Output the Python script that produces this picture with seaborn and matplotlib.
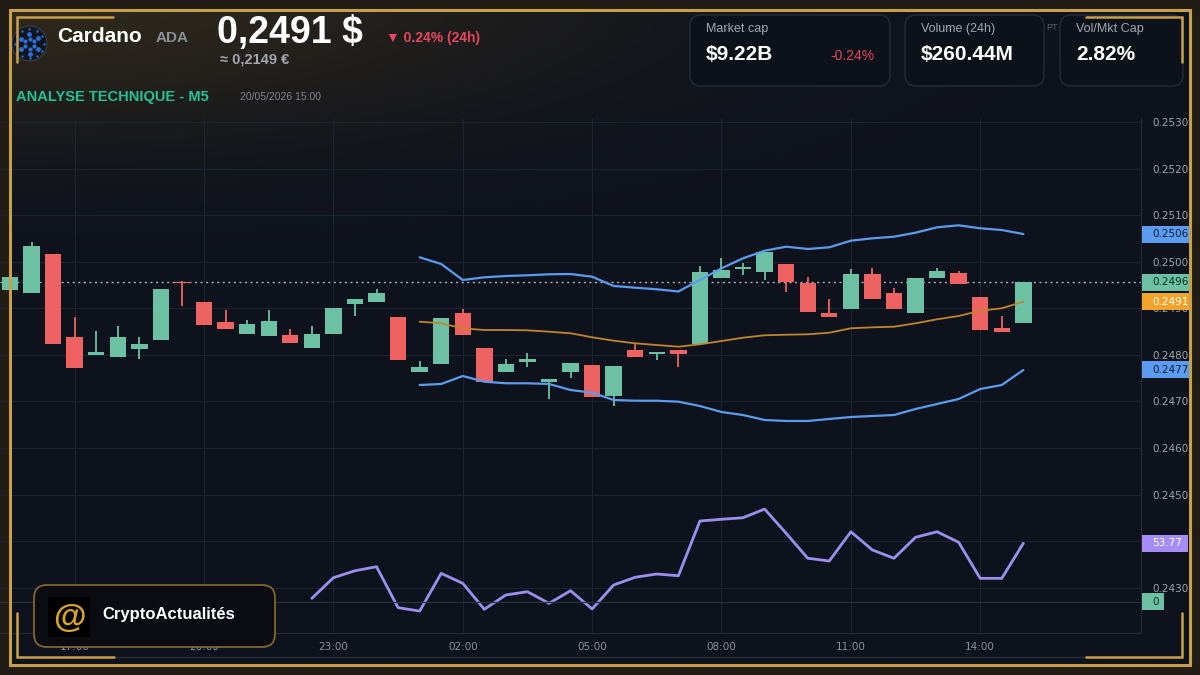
import numpy as np
import pandas as pd
import seaborn as sns
import matplotlib.pyplot as plt
from matplotlib.patches import FancyBboxPatch, Rectangle, Circle

# ---- data (30 min candles, 19/05 15:30 -> 20/05 15:00) ----
times = pd.date_range("2026-05-19 15:30", periods=48, freq="30min")

opens = [0.24940, 0.24932, 0.25017, 0.24839, 0.24800, 0.24795, 0.24813, 0.24832,
         0.24957, 0.24914, 0.24870, 0.24845, 0.24840, 0.24842, 0.24814, 0.24844,
         0.24909, 0.24913, 0.24882, 0.24763, 0.24780, 0.24889, 0.24814, 0.24763,
         0.24785, 0.24741, 0.24763, 0.24778, 0.24712, 0.24811, 0.24803, 0.24811,
         0.24823, 0.24966, 0.24985, 0.24977, 0.24994, 0.24955, 0.24889, 0.24899,
         0.24973, 0.24932, 0.24890, 0.24966, 0.24975, 0.24925, 0.24858, 0.24868]
highs = [0.24970, 0.25042, 0.25017, 0.24881, 0.24851, 0.24862, 0.24839, 0.24941,
         0.24958, 0.24914, 0.24896, 0.24875, 0.24896, 0.24855, 0.24862, 0.24900,
         0.24921, 0.24941, 0.24882, 0.24787, 0.24880, 0.24899, 0.24814, 0.24792,
         0.24805, 0.24748, 0.24782, 0.24778, 0.24776, 0.24823, 0.24806, 0.24811,
         0.24991, 0.25007, 0.24998, 0.25020, 0.24994, 0.24968, 0.24921, 0.24984,
         0.24987, 0.24944, 0.24964, 0.24986, 0.24980, 0.24925, 0.24883, 0.24956]
lows = [0.24938, 0.24932, 0.24823, 0.24771, 0.24800, 0.24795, 0.24791, 0.24832,
        0.24905, 0.24864, 0.24856, 0.24845, 0.24840, 0.24825, 0.24814, 0.24844,
        0.24883, 0.24913, 0.24789, 0.24763, 0.24780, 0.24842, 0.24742, 0.24763,
        0.24775, 0.24705, 0.24751, 0.24709, 0.24690, 0.24796, 0.24789, 0.24773,
        0.24823, 0.24966, 0.24971, 0.24961, 0.24934, 0.24892, 0.24881, 0.24899,
        0.24921, 0.24898, 0.24890, 0.24966, 0.24953, 0.24853, 0.24850, 0.24868]
closes = [0.24968, 0.25034, 0.24823, 0.24771, 0.24806, 0.24839, 0.24824, 0.24941,
          0.24954, 0.24864, 0.24856, 0.24866, 0.24872, 0.24825, 0.24844, 0.24900,
          0.24921, 0.24932, 0.24789, 0.24775, 0.24880, 0.24842, 0.24742, 0.24780,
          0.24791, 0.24748, 0.24782, 0.24709, 0.24776, 0.24796, 0.24806, 0.24801,
          0.24977, 0.24982, 0.24988, 0.25020, 0.24956, 0.24892, 0.24881, 0.24973,
          0.24921, 0.24898, 0.24964, 0.24981, 0.24953, 0.24853, 0.24850, 0.24956]

# Bollinger bands, from candle 19 on
band_start = 19
upper_band = [0.250094, 0.249951, 0.249607, 0.249665, 0.249693, 0.249708, 0.249730, 0.249736,
              0.249678, 0.249479, 0.249442, 0.249408, 0.249361, 0.249607, 0.249858, 0.250073,
              0.250236, 0.250322, 0.250273, 0.250309, 0.250451, 0.250502, 0.250536, 0.250622,
              0.250738, 0.250781, 0.250717, 0.250680, 0.250594]
middle_band = [0.248712, 0.248678, 0.248571, 0.248534, 0.248534, 0.248528, 0.248498, 0.248464,
               0.248378, 0.248305, 0.248249, 0.248212, 0.248176, 0.248227, 0.248298, 0.248369,
               0.248421, 0.248433, 0.248442, 0.248476, 0.248571, 0.248592, 0.248605, 0.248678,
               0.248764, 0.248835, 0.248948, 0.249000, 0.249142]
lower_band = [0.247354, 0.247376, 0.247547, 0.247425, 0.247391, 0.247391, 0.247376, 0.247247,
              0.247189, 0.247032, 0.247017, 0.247017, 0.246996, 0.246903, 0.246775, 0.246710,
              0.246603, 0.246582, 0.246582, 0.246625, 0.246667, 0.246689, 0.246710, 0.246839,
              0.246946, 0.247054, 0.247268, 0.247354, 0.247676]

# oscillator, from candle 14 on
osc_start = 14
osc_values = [3.1, 22.1, 28.5, 32.2, -5.5, -8.6, 26.1, 16.9, -7.0, 6.2, 9.2, -1.5, 10.1, -6.7,
              15.4, 22.5, 25.5, 23.9, 74.3, 75.9, 77.3, 85.3, 63.0, 40.0, 37.5, 64.4, 47.6,
              40.0, 59.3, 64.4, 54.7, 21.5, 21.5, 53.77]

price_ticks = [0.2430, 0.2440, 0.2450, 0.2460, 0.2470, 0.2480, 0.2490, 0.2500, 0.2510, 0.2520, 0.2530]
hidden_ticks = [0.2440]  # covered by the oscillator tag in the original

# ---- colours ----
GREEN = "#6cc0a4"
RED = "#ef6262"
BLUE = "#5b9cf0"
ORANGE = "#c08629"
PURPLE = "#9d8ff0"
GOLD = "#c8a04a"
GRID = "#1d2330"
TXT = "#9ea3ab"

sns.set_theme(style="dark")
plt.rcParams["font.family"] = ["Liberation Sans", "DejaVu Sans"]

W, H = 1200, 675
fig = plt.figure(figsize=(12, 6.75), dpi=100)

# background gradient
bg = fig.add_axes([0, 0, 1, 1], zorder=-1)
yy, xx = np.mgrid[0:H, 0:W]
navy = np.array([14, 18, 28]) / 255
brown = np.array([46, 40, 28]) / 255
wgt = np.exp(-((xx / 580) ** 2 + (yy / 135) ** 2))[..., None]
img = navy * (1 - wgt) + brown * wgt
frame = (xx < 10) | (xx > 1190) | (yy < 10) | (yy > 665)
img[frame] = np.array([33, 29, 22]) / 255
bg.imshow(img, extent=(0, W, H, 0), aspect="auto")
bg.axis("off")

# main price axes
ax = fig.add_axes([0, 42.3 / H, 1141 / W, 514.7 / H])
ax.set_facecolor("none")
ax_osc = ax.twinx()

idx = np.arange(len(times))
o = np.array(opens)
c = np.array(closes)
cols = [GREEN if cc >= oo else RED for oo, cc in zip(o, c)]
ax.vlines(idx, lows, highs, colors=cols, lw=1.3, zorder=2)
ax.bar(idx, np.maximum(np.abs(c - o), 0.00003), bottom=np.minimum(o, c), width=0.76,
       color=cols, linewidth=0, zorder=3)

bands = pd.DataFrame({"i": idx[band_start:], "upper": upper_band,
                      "middle": middle_band, "lower": lower_band})
sns.lineplot(data=bands, x="i", y="upper", ax=ax, color=BLUE, lw=1.6, zorder=4)
sns.lineplot(data=bands, x="i", y="lower", ax=ax, color=BLUE, lw=1.6, zorder=4)
sns.lineplot(data=bands, x="i", y="middle", ax=ax, color=ORANGE, lw=1.3, zorder=4)

ax.axhline(closes[-1], color="#aab2bb", lw=1, ls=(0, (1.5, 2.5)), zorder=1)

ax.set_xlim(-0.464, 52.458)
ax.set_ylim(0.2420386, 0.2530837)
tick_idx = [i for i, t in enumerate(times) if t.minute == 0 and t.hour % 3 == 2]
ax.set_xticks(tick_idx)
ax.set_xticklabels([times[i].strftime("%H:%M") for i in tick_idx])
ax.set_yticks(price_ticks)
ax.set_yticklabels(["" if v in hidden_ticks else f"{v:.4f}" for v in price_ticks])
ax.yaxis.tick_right()
ax.tick_params(axis="y", length=0, pad=8, labelsize=7.5, labelcolor=TXT)
ax.tick_params(axis="x", length=0, pad=6.5, labelsize=7.5, labelcolor="#8c9099")
for lab in ax.get_xticklabels() + ax.get_yticklabels():
    lab.set_family("DejaVu Sans")
ax.grid(True, color=GRID, lw=0.8)
ax.set_xlabel("")
ax.set_ylabel("")
for s in ["top", "left"]:
    ax.spines[s].set_visible(False)
for s in ["right", "bottom"]:
    ax.spines[s].set_color("#262c38")
    ax.spines[s].set_linewidth(0.8)

# oscillator overlay
osc = pd.DataFrame({"i": idx[osc_start:], "osc": osc_values})
sns.lineplot(data=osc, x="i", y="osc", ax=ax_osc, color=PURPLE, lw=2)
ax_osc.axhline(0, color="#2a303c", lw=0.9)
ax_osc.set_ylim(-28.54, 445.35)
ax_osc.set_yticks([])
ax_osc.set_ylabel("")
ax_osc.grid(False)
for s in ax_osc.spines.values():
    s.set_visible(False)

# ---- overlay: header, cards, frame, logo ----
ov = fig.add_axes([0, 0, 1, 1], zorder=5)
ov.set_xlim(0, W)
ov.set_ylim(H, 0)
ov.axis("off")
ov.set_facecolor("none")


def tag(axis, val, label, fc, tc, width=48):
    # price-scale label box, placed at the series value
    y_px = H - axis.transData.transform((0, val))[1]
    ov.add_patch(Rectangle((1142, y_px - 8.5), width, 17, fc=fc, ec="none"))
    ov.text(1152, y_px, label, color=tc, fontsize=7.5, family="DejaVu Sans",
            ha="left", va="center")


tag(ax, upper_band[-1], f"{upper_band[-1]:.4f}", BLUE, "#0e1d38")
tag(ax, closes[-1], f"{closes[-1]:.4f}", GREEN, "#0d2a20")
tag(ax, middle_band[-1], f"{middle_band[-1]:.4f}", "#f2a32a", "white")
tag(ax, lower_band[-1], f"{lower_band[-1]:.4f}", BLUE, "#0e1d38")
tag(ax_osc, osc_values[-1], f"{osc_values[-1]:.2f}", "#a68cf5", "white", width=46)
tag(ax_osc, 0, "0", GREEN, "#0d2a20", width=22)

# cardano logo
ov.add_patch(Circle((29.5, 43.5), 17.5, fc="#12161f", ec="#3a3f4a", lw=0.8))
for r, n, sz in [(5, 6, 9), (10, 6, 12), (14.5, 12, 3)]:
    ang = np.linspace(0, 2 * np.pi, n, endpoint=False) + np.pi / 6
    ov.scatter(29.5 + r * np.cos(ang), 43.5 + r * np.sin(ang), s=sz, color="#2f6fd6", lw=0)

ov.text(57, 42, "Cardano", color="white", fontsize=15, fontweight="bold")
ov.text(156, 42, "ADA", color="#8c9097", fontsize=11, fontweight="bold")
ov.text(217, 43, "0,2491 $", color="white", fontsize=27, fontweight="bold")
ov.text(386, 42, "▼ 0.24% (24h)", color="#e8455e", fontsize=10, fontweight="bold")
ov.text(220, 63, "≈ 0,2149 €", color="#a3a7ae", fontsize=10.5, fontweight="bold")
ov.text(16, 100.5, "ANALYSE TECHNIQUE - M5", color="#25c196", fontsize=10.5, fontweight="bold")
ov.text(240, 100, "20/05/2026 15:00", color="#80848c", fontsize=7.5)

ov.text(1046, 30, "PT", color="#555a63", fontsize=6.5)
cards = [(690, 200, "Market cap", "$9.22B"), (905, 139, "Volume (24h)", "$260.44M"),
         (1060, 123, "Vol/Mkt Cap", "2.82%")]
for x0, wd, title, value in cards:
    ov.add_patch(FancyBboxPatch((x0, 15), wd, 71, boxstyle="round,pad=0,rounding_size=11",
                                fc="#0d1119", ec="#262c38", lw=1))
    ov.text(x0 + 16, 32, title, color="#a2a7b0", fontsize=9)
    ov.text(x0 + 16, 60.5, value, color="white", fontsize=15, fontweight="bold")
ov.text(830, 60, "-0.24%", color="#e8455e", fontsize=10)

# gold frame and corner brackets
ov.add_patch(Rectangle((10, 10), 1180, 655, fill=False, ec=GOLD, lw=2.2))
ov.plot([114, 1086], [657, 657], color="#262c38", lw=1)
for xs, ys in [([17, 17, 113], [62, 17, 17]), ([1086, 1182, 1182], [17, 17, 62]),
               ([17, 17, 114], [613, 657, 657]), ([1086, 1182, 1182], [657, 657, 613])]:
    ov.plot(xs, ys, color=GOLD, lw=1.8, solid_joinstyle="miter")

# CryptoActualités badge
ov.add_patch(FancyBboxPatch((34, 585), 241, 62, boxstyle="round,pad=0,rounding_size=13",
                            fc="#0a0c12", ec="#8a6d2c", lw=1.2))
ov.add_patch(Rectangle((48, 597), 42, 40, fc="black", ec="none"))
ov.text(69, 618, "@", color="#d9a62a", fontsize=24, fontweight="bold", ha="center", va="center")
ov.text(102, 614, "CryptoActualités", color="white", fontsize=12, fontweight="bold", va="center")

fig.savefig("out.png", dpi=100)
